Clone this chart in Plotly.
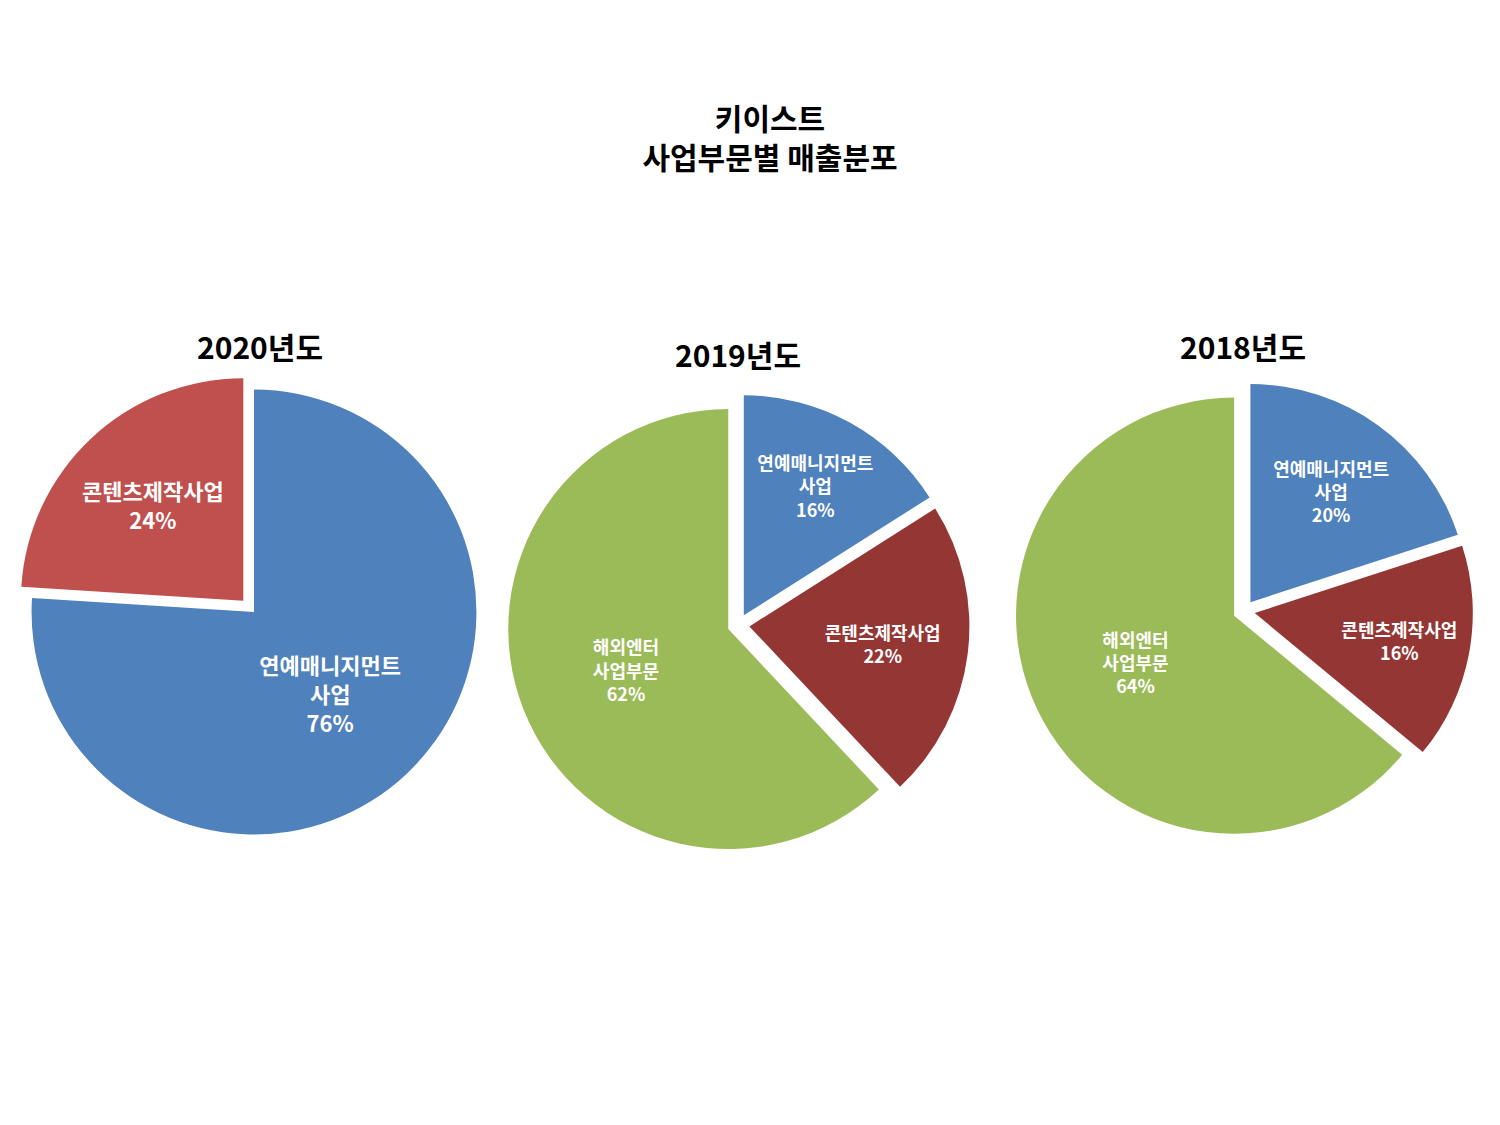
import plotly.graph_objects as go

FONT = "Noto Sans CJK KR"

labels_2020 = ["연예매니지먼트<br>사업", "콘텐츠제작사업"]
values_2020 = [76, 24]
colors_2020 = ["#4F81BD", "#C0504D"]

labels_2019 = ["연예매니지먼트<br>사업", "콘텐츠제작사업", "해외엔터<br>사업부문"]
values_2019 = [16, 22, 62]

labels_2018 = ["연예매니지먼트<br>사업", "콘텐츠제작사업", "해외엔터<br>사업부문"]
values_2018 = [20, 16, 64]
colors_3 = ["#4F81BD", "#943634", "#9BBB59"]

W, H = 1500, 1125


def dom(x0, x1, y0, y1):
    return dict(x=[x0 / W, x1 / W], y=[1 - y1 / H, 1 - y0 / H])


fig = go.Figure()
fig.add_trace(go.Pie(labels=labels_2020, values=values_2020, sort=False,
                     direction="clockwise", rotation=0, pull=[0, 0.07],
                     marker=dict(colors=colors_2020, line=dict(color="white", width=0)),
                     texttemplate="<b>%{label}<br>%{value}%</b>", textposition="inside",
                     insidetextorientation="horizontal",
                     textfont=dict(family=FONT, size=22, color="white"),
                     domain=dom(8, 484, 366, 842), showlegend=False))
fig.add_trace(go.Pie(labels=labels_2019, values=values_2019, sort=False,
                     direction="clockwise", rotation=0, pull=[0.05, 0.05, 0.05],
                     marker=dict(colors=colors_3),
                     texttemplate="<b>%{label}<br>%{value}%</b>", textposition="inside",
                     insidetextorientation="horizontal",
                     textfont=dict(family=FONT, size=18, color="white"),
                     domain=dom(495, 966, 386, 848), showlegend=False))
fig.add_trace(go.Pie(labels=labels_2018, values=values_2018, sort=False,
                     direction="clockwise", rotation=0, pull=[0.05, 0.05, 0.05],
                     marker=dict(colors=colors_3),
                     texttemplate="<b>%{label}<br>%{value}%</b>", textposition="inside",
                     insidetextorientation="horizontal",
                     textfont=dict(family=FONT, size=18, color="white"),
                     domain=dom(1006, 1466, 374, 832), showlegend=False))

for txt, x, y in [("2020년도", 252, 338), ("2019년도", 730, 346), ("2018년도", 1235, 338)]:
    fig.add_annotation(text="<b>%s</b>" % txt, x=x / W, y=1 - y / H, xref="paper", yref="paper",
                       xanchor="center", yanchor="middle",
                       showarrow=False, font=dict(family=FONT, size=30, color="black"))

fig.update_layout(
    width=W, height=H, paper_bgcolor="white", plot_bgcolor="white",
    margin=dict(l=0, r=0, t=0, b=0),
    title=dict(text="<b>키이스트<br>사업부문별 매출분포</b>", x=0.508, y=1 - 122 / H,
               xanchor="center", yanchor="middle",
               font=dict(family=FONT, size=30, color="black")),
)

fig.write_html("out.html")
